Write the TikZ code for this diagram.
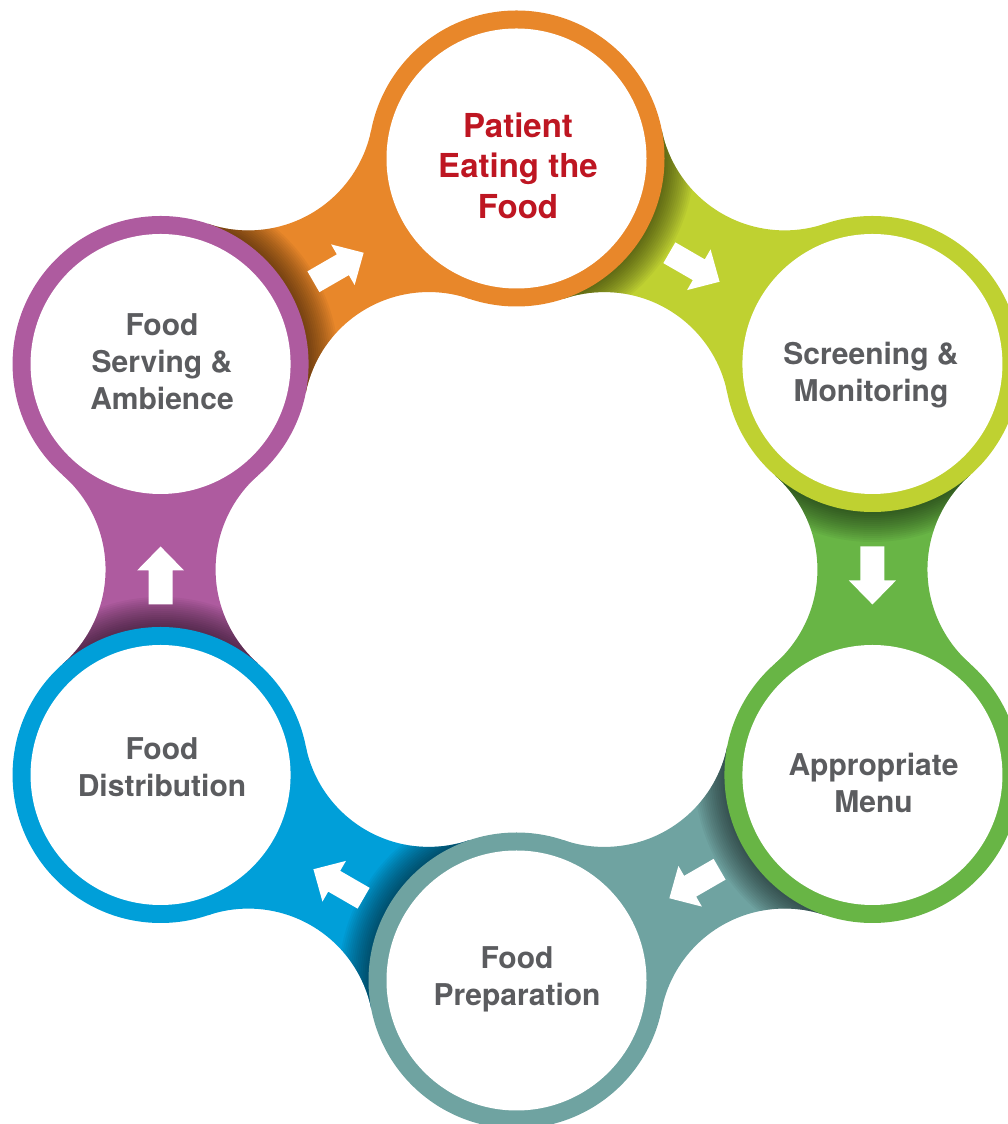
\documentclass[tikz,border=0pt]{standalone}
\usepackage{fontspec}
\setmainfont{TeX Gyre Heros}
\usetikzlibrary{calc}

\definecolor{cOrange}{HTML}{E8872A}
\definecolor{cLime}{HTML}{BFD131}
\definecolor{cGreen}{HTML}{68B545}
\definecolor{cTeal}{HTML}{6FA3A1}
\definecolor{cBlue}{HTML}{009FD9}
\definecolor{cPurple}{HTML}{AE5B9F}
\definecolor{cText}{HTML}{5B5C5F}
\definecolor{cRed}{HTML}{BE1622}

% ring radii (pt); hexagon radius is 411pt
\def\Ro{148}
\def\Ri{130}

\tikzset{
  lbl/.style={font=\bfseries\fontsize{30}{37}\selectfont, text=cText, align=center, inner sep=0pt},
  lblred/.style={font=\bfseries\fontsize{33}{40.5}\selectfont, text=cRed, align=center, inner sep=0pt},
  ringfill/.style={fill=#1},
  flowarrow/.style={fill=white}
}

% neck joining the ring at hexagon angle #1 to the next one clockwise, coloured #2
\newcommand{\linkshape}[2]{%
  \begin{scope}[shift={(#1:411)}, rotate=#1-120]
    \fill[#2] (111.19,97.68) arc[start angle=221.3,end angle=318.7,radius=125.5]
      -- (299.81,-97.68) arc[start angle=41.3,end angle=138.7,radius=125.5] -- cycle;
    \begin{scope}
      \clip (111.19,97.68) arc[start angle=221.3,end angle=318.7,radius=125.5]
        -- (299.81,-97.68) arc[start angle=41.3,end angle=138.7,radius=125.5] -- cycle;
      \foreach \k in {2,4,...,30}
        \fill[black,opacity=0.04] (0,0) circle[radius=\Ro+\k];
    \end{scope}
  \end{scope}}

% white block arrow halfway along a neck
\newcommand{\flowarrow}[1]{%
  \fill[flowarrow, shift={($(#1:411)!0.5!(#1-60:411)+(0,-6)$)}, rotate=#1-120]
    (-29,-12) -- (5,-12) -- (5,-23.5) -- (29,0) -- (5,23.5) -- (5,12) -- (-29,12) -- cycle;}

\begin{document}
\begin{tikzpicture}[x=1pt,y=1pt]
\useasboundingbox (0,0) rectangle (1008,1124);

\begin{scope}[shift={(516.5,554.5)}]
  % ring centres
  \coordinate (cEat)    at (90:411);
  \coordinate (cScreen) at (30:411);
  \coordinate (cMenu)   at (-30:411);
  \coordinate (cPrep)   at (-90:411);
  \coordinate (cDist)   at (210:411);
  \coordinate (cServe)  at (150:411);

  % necks, coloured like the ring they lead to
  \linkshape{150}{cOrange}
  \linkshape{90}{cLime}
  \linkshape{30}{cGreen}
  \linkshape{-30}{cTeal}
  \linkshape{-90}{cBlue}
  \linkshape{210}{cPurple}

  % rings
  \foreach \c/\col in {cEat/cOrange, cScreen/cLime, cMenu/cGreen, cPrep/cTeal, cDist/cBlue, cServe/cPurple}{
    \fill[ringfill=\col] (\c) circle[radius=\Ro];
    \fill[white] (\c) circle[radius=\Ri];
  }

  % direction arrows
  \flowarrow{150}
  \flowarrow{90}
  \flowarrow{30}
  \flowarrow{-30}
  \flowarrow{-90}
  \flowarrow{210}
\end{scope}

% labels
\node[lblred] (tEat)    at (518,958.5)  {Patient\\Eating the\\Food};
\node[lbl]    (tScreen) at (871,749)    {Screening \&\\Monitoring};
\node[lbl]    (tMenu)   at (873.5,341.5){Appropriate\\Menu};
\node[lbl]    (tPrep)   at (517,145)    {Food\\Preparation};
\node[lbl]    (tDist)   at (162,356.5)  {Food\\Distribution};
\node[lbl]    (tServe)  at (162,762.5)  {Food\\Serving \&\\Ambience};
\end{tikzpicture}
\end{document}
